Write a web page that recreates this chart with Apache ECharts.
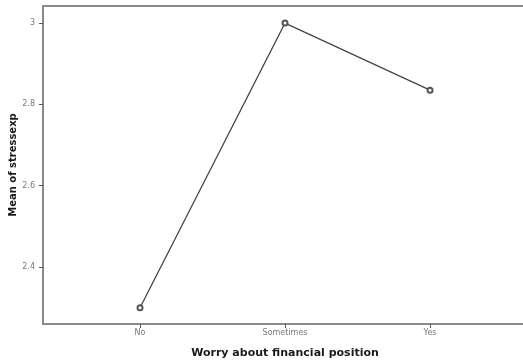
<!DOCTYPE html>
<html><head><meta charset="utf-8">
<script src="https://cdn.jsdelivr.net/npm/echarts@6/dist/echarts.min.js"></script>
<style>html,body{margin:0;padding:0;background:#fff;overflow:hidden}#c{width:600px;height:363px}</style>
</head><body><div id="c"></div>
<script>
const categories = ['No', 'Sometimes', 'Yes'];
const meanStress = [2.30, 3.00, 2.835];
const yTicks = [2.4, 2.6, 2.8, 3.0];

const chart = echarts.init(document.getElementById('c'), null, {renderer: 'canvas'});
const catIdx = categories.map((_, i) => i);
chart.setOption({
  animation: false,
  backgroundColor: '#fff',
  grid: {left: 43, top: 6, right: 0, bottom: 39, containLabel: false, outerBoundsMode: 'none', show: true, borderColor: '#8a8a8a', borderWidth: 2, backgroundColor: 'transparent'},
  xAxis: {
    type: 'value', min: -0.669, max: 3.172,
    name: 'Worry about financial position', nameLocation: 'middle', nameGap: 24,
    nameTextStyle: {fontFamily: 'DejaVu Sans', fontWeight: 'bold', fontSize: 11, color: '#1a1a1a', padding: [0, 73, 0, 0]},
    axisLine: {show: true, onZero: false, lineStyle: {color: '#8a8a8a', width: 2}},
    axisTick: {show: true, length: 4, customValues: catIdx, lineStyle: {color: '#555'}},
    axisLabel: {customValues: catIdx, formatter: v => categories[Math.round(v)] || '', fontFamily: 'DejaVu Sans', fontSize: 8, color: '#777', margin: 5},
    splitLine: {show: false}
  },
  yAxis: {
    type: 'value', min: 2.26, max: 3.042,
    name: 'Mean of stressexp', nameLocation: 'middle', nameGap: 25, nameRotate: 90, nameMoveOverlap: false,
    nameTextStyle: {fontFamily: 'DejaVu Sans', fontWeight: 'bold', fontSize: 10, color: '#1a1a1a'},
    axisLine: {show: true, onZero: false, lineStyle: {color: '#8a8a8a', width: 2}},
    axisTick: {show: true, length: 4, customValues: yTicks, lineStyle: {color: '#555'}},
    axisLabel: {customValues: yTicks, fontFamily: 'DejaVu Sans', fontSize: 8, color: '#777', margin: 8},
    splitLine: {show: false}
  },
  series: [{
    type: 'line',
    data: meanStress.map((v, i) => [i, v]),
    symbol: 'emptyCircle', symbolSize: 5,
    lineStyle: {color: '#444', width: 1.3},
    itemStyle: {color: '#555', borderWidth: 1},
    silent: true
  }]
});
</script></body></html>
